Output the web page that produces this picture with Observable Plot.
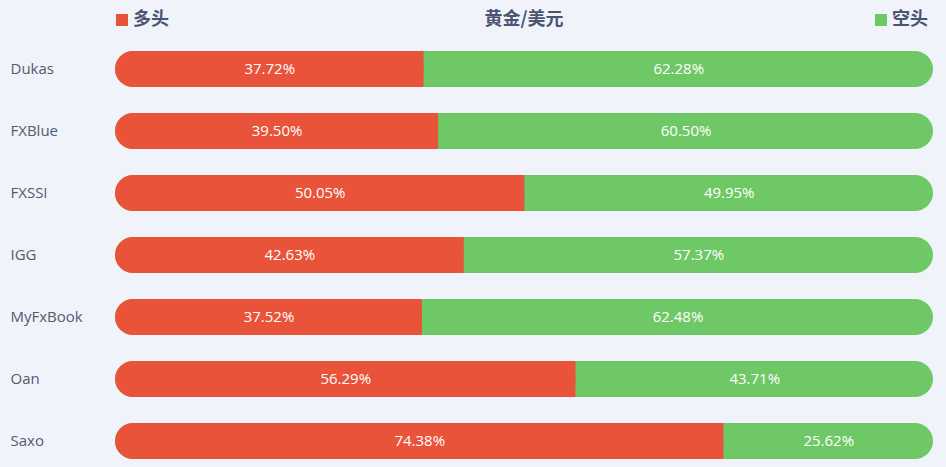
<!DOCTYPE html>
<html>
<head>
<meta charset="utf-8">
<script src="https://cdn.jsdelivr.net/npm/d3@7"></script>
<script src="https://cdn.jsdelivr.net/npm/@observablehq/plot@0.6"></script>
<style>
  html, body { margin: 0; padding: 0; background: #f0f3fa; }
  #wrap { width: 946px; height: 467px; position: relative; overflow: hidden; font-family: "Noto Sans CJK SC", "Noto Sans", sans-serif; }
  #header { position: relative; width: 946px; height: 36px; color: #4b5470; font-weight: bold; font-size: 18px; }
  #header .item { position: absolute; top: 5px; line-height: 24px; white-space: nowrap; }
  #header .sw { display: inline-block; width: 12px; height: 12px; margin-right: 5px; vertical-align: -1px; }
  #title { left: 0; width: 1048px; text-align: center; }
  #chart svg { display: block; }
</style>
</head>
<body>
<div id="wrap">
  <div id="header">
    <div class="item" style="left:116px"><span class="sw" style="background:#e8533a"></span>多头</div>
    <div class="item" id="title">黄金/美元</div>
    <div class="item" style="left:875px"><span class="sw" style="background:#6fc866"></span>空头</div>
  </div>
  <div id="chart"></div>
</div>
<script>
const brokers = ["Dukas", "FXBlue", "FXSSI", "IGG", "MyFxBook", "Oan", "Saxo"];
const longPct = [37.72, 39.50, 50.05, 42.63, 37.52, 56.29, 74.38];
const shortPct = [62.28, 60.50, 49.95, 57.37, 62.48, 43.71, 25.62];

const rows = brokers.map((b, i) => ({broker: b, long: longPct[i], short: shortPct[i], total: longPct[i] + shortPct[i]}));
const red = "#e8533a", green = "#6fc866";

const chart = Plot.plot({
  width: 946,
  height: 431,
  marginLeft: 115,
  marginRight: 13,
  marginTop: 13,
  marginBottom: 6.3,
  style: {background: "transparent", fontFamily: "'Open Sans', 'Noto Sans', sans-serif"},
  x: {domain: [0, 100], axis: null},
  y: {domain: brokers, paddingInner: 0.413, paddingOuter: 0, label: null},
  marks: [
    Plot.axisY({tickSize: 0, tickPadding: 0, textAnchor: "start", dx: -105, fontSize: 15, fill: "#555a70"}),
    Plot.barX(rows, {y: "broker", x1: 0, x2: "total", fill: green, rx: 18.35}),
    Plot.barX(rows, {y: "broker", x1: 0, x2: "long", fill: red, rx: 18.35}),
    Plot.barX(rows, {y: "broker", x1: d => d.long / 2, x2: "long", fill: red}),
    Plot.text(rows, {y: "broker", x: d => d.long / 2, text: d => d.long.toFixed(2) + "%", fill: "white", fontSize: 15}),
    Plot.text(rows, {y: "broker", x: d => d.long + d.short / 2, text: d => d.short.toFixed(2) + "%", fill: "white", fontSize: 15})
  ]
});
document.getElementById("chart").appendChild(chart);
</script>
</body>
</html>
